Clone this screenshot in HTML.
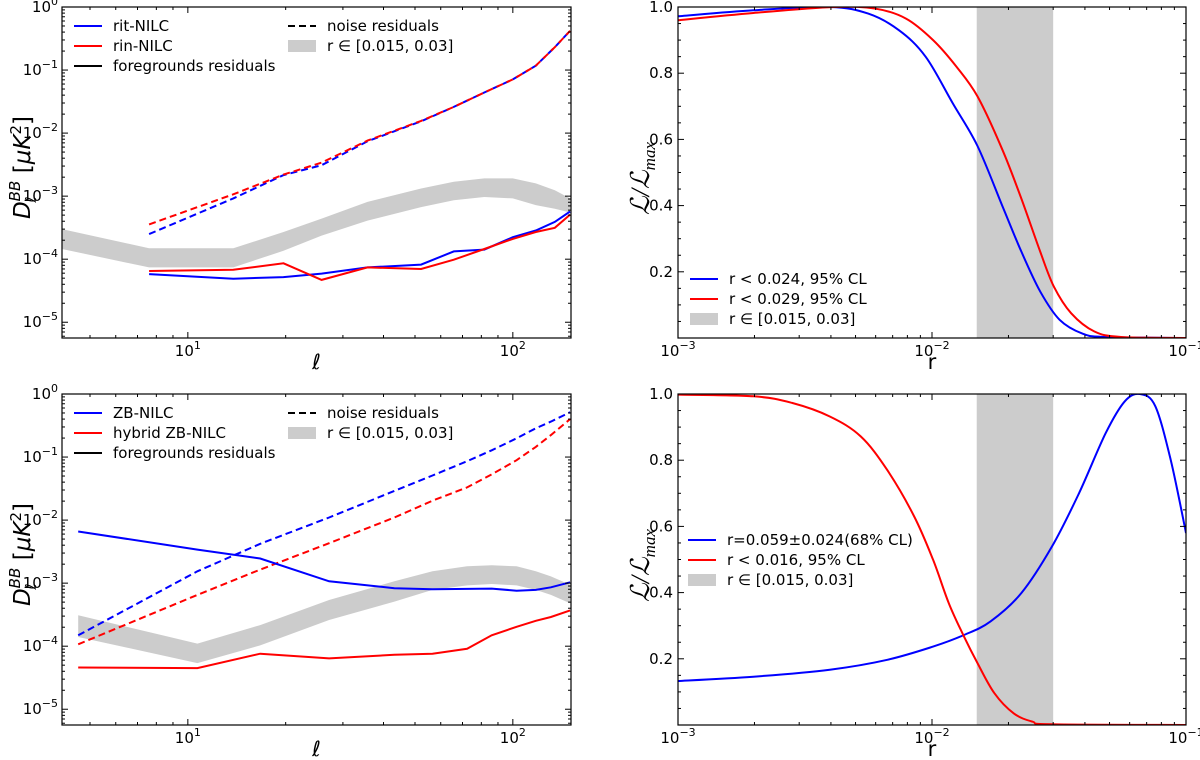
<!DOCTYPE html>
<html><head><meta charset="utf-8">
<style>
body{margin:0;background:#fff;}
svg{display:block;font-family:"DejaVu Sans","Liberation Sans",sans-serif;}
</style></head>
<body>
<svg id="fig" width="1200" height="760" viewBox="0 0 1200 760"></svg>
<script>
// ---- data: top-left (rit/rin-NILC) ----
const ellTL = [7.6,13.8,19.7,25.8,35.7,52.2,65.8,81.7,100,117.7,134.6,150];
const ritFg = [5.8e-5,4.9e-5,5.2e-5,5.9e-5,7.4e-5,8.2e-5,1.33e-4,1.42e-4,2.23e-4,2.85e-4,3.9e-4,5.7e-4];
const rinFg = [6.5e-5,6.8e-5,8.6e-5,4.7e-5,7.4e-5,7.0e-5,9.8e-5,1.45e-4,2.1e-4,2.7e-4,3.15e-4,5.1e-4];
const ritNoise = [2.5e-4,9.2e-4,2.16e-3,3.1e-3,7.4e-3,1.54e-2,2.6e-2,4.4e-2,7.1e-2,0.117,0.23,0.42];
const rinNoise = [3.56e-4,1.07e-3,2.2e-3,3.4e-3,7.6e-3,1.56e-2,2.6e-2,4.4e-2,7.1e-2,0.117,0.23,0.42];
const ellBandTL = [4.1,7.6,13.8,19.7,25.8,35.7,52.2,65.8,81.7,100,117.7,134.6,150];
const bandTLHi = [3.0e-4,1.49e-4,1.49e-4,2.7e-4,4.4e-4,8.1e-4,1.32e-3,1.69e-3,1.91e-3,1.91e-3,1.59e-3,1.24e-3,9.2e-4];
const bandTLLo = [1.45e-4,7.4e-5,7.4e-5,1.36e-4,2.37e-4,4.1e-4,6.7e-4,8.6e-4,9.7e-4,9.2e-4,7.2e-4,6.3e-4,5.5e-4];
// ---- data: bottom-left (ZB-NILC) ----
const ellBL = [4.6,10.7,16.7,27.2,43.2,56.6,72.3,86.1,102.7,117.7,131,150];
const zbFg = [6.6e-3,3.4e-3,2.46e-3,1.07e-3,8.3e-4,8.0e-4,8.1e-4,8.2e-4,7.6e-4,7.8e-4,8.6e-4,1.03e-3];
const hybFg = [4.6e-5,4.5e-5,7.6e-5,6.4e-5,7.3e-5,7.6e-5,9.1e-5,1.49e-4,2.03e-4,2.53e-4,2.9e-4,3.7e-4];
const zbNoise = [1.49e-4,1.54e-3,4.2e-3,1.1e-2,2.9e-2,5.1e-2,8.6e-2,0.128,0.198,0.286,0.365,0.515];
const hybNoise = [1.07e-4,6.5e-4,1.64e-3,4.3e-3,1.1e-2,2.03e-2,3.3e-2,5.3e-2,8.9e-2,0.145,0.223,0.4];
const bandBLHi = [3.1e-4,1.1e-4,2.16e-4,5.4e-4,1.07e-3,1.54e-3,1.85e-3,1.92e-3,1.85e-3,1.54e-3,1.28e-3,9.4e-4];
const bandBLLo = [1.4e-4,5.4e-5,1.03e-4,2.6e-4,5.1e-4,7.8e-4,9.2e-4,9.7e-4,9.2e-4,7.8e-4,6.5e-4,4.8e-4];
// ---- data: likelihoods ----
const rTB = [0.001,0.00198,0.00396,0.00561,0.00741,0.00944,0.01205,0.0151,0.0189,0.0225,0.0267,0.0318,0.0392,0.0483,0.1];
const LTB = [0.972,0.99,1.0,0.98,0.93,0.85,0.71,0.58,0.40,0.26,0.14,0.055,0.013,0.003,0];
const rTR = [0.001,0.00198,0.0041,0.0060,0.0079,0.0101,0.01247,0.0151,0.0189,0.0225,0.0267,0.0302,0.0353,0.0435,0.0555,0.1];
const LTR = [0.96,0.982,1.0,0.995,0.965,0.9,0.82,0.73,0.57,0.42,0.26,0.155,0.075,0.02,0.003,0];
const rBB = [0.001,0.00198,0.00396,0.00667,0.0101,0.01337,0.0170,0.0225,0.0297,0.0379,0.0483,0.0574,0.0659,0.0757,0.0871,0.1];
const LBB = [0.133,0.146,0.167,0.197,0.237,0.272,0.313,0.399,0.54,0.70,0.882,0.978,1.0,0.963,0.80,0.58];
const rBR = [0.001,0.00198,0.00281,0.00396,0.00524,0.00667,0.00851,0.0101,0.01164,0.01337,0.0151,0.0176,0.0210,0.0249,0.0296,0.1];
const LBR = [0.998,0.993,0.973,0.932,0.872,0.77,0.63,0.499,0.368,0.267,0.187,0.096,0.035,0.01,0.002,0];
const rBand = [0.015,0.03];
const logYTicks = [0,-1,-2,-3,-4,-5];
const linYTicks = [0.2,0.4,0.6,0.8,1.0];

const NS="http://www.w3.org/2000/svg";
const svg=document.getElementById('fig');
function mk(tag,attrs,parent){const e=document.createElementNS(NS,tag);for(const k in attrs)e.setAttribute(k,attrs[k]);(parent||svg).appendChild(e);return e;}

function panel(name,x0,x1,y0,y1,xlim,ylim,ylog){
  const g=mk('g',{});
  
  
  const lx=Math.log10(xlim[0]),hx=Math.log10(xlim[1]);
  const X=v=>x0+(Math.log10(v)-lx)/(hx-lx)*(x1-x0);
  let Y;
  if(ylog){const ly=Math.log10(ylim[0]),hy=Math.log10(ylim[1]);Y=v=>y1-(Math.log10(v)-ly)/(hy-ly)*(y1-y0);}
  else Y=v=>y1-(v-ylim[0])/(ylim[1]-ylim[0])*(y1-y0);
  return {g,X,Y,x0,x1,y0,y1,xlim,ylim,ylog};
}
function frame(p,xlabel,ylabelFn){
  const {g,X,Y,x0,x1,y0,y1}=p;
  const fr=mk('rect',{x:x0,y:y0,width:x1-x0,height:y1-y0,fill:'none',stroke:'#000','stroke-width':1.2},g);
  
  
  const e0=Math.floor(Math.log10(p.xlim[0])),e1=Math.ceil(Math.log10(p.xlim[1]));
  for(let e=e0;e<=e1;e++){for(let m=1;m<10;m++){const v=m*Math.pow(10,e);if(v<p.xlim[0]*0.999||v>p.xlim[1]*1.001)continue;const xx=X(v);const L=m==1?6:3;
    mk('line',{x1:xx,x2:xx,y1:y1,y2:y1-L,stroke:'#000','stroke-width':1},g);mk('line',{x1:xx,x2:xx,y1:y0,y2:y0+L,stroke:'#000','stroke-width':1},g);
    if(m==1){const t=mk('text',{x:xx,y:y1+18,'text-anchor':'middle','font-size':15},g);t.innerHTML='10<tspan dy="-7" font-size="11">'+(e<0?'−'+(-e):e)+'</tspan>';}}}
  if(p.ylog){
    for(const e of logYTicks.concat([-6])){for(let m=1;m<10;m++){const v=m*Math.pow(10,e);if(v<p.ylim[0]||v>p.ylim[1]*1.001)continue;const yy=Y(v);const L=m==1?6:3;
      mk('line',{x1:x0,x2:x0+L,y1:yy,y2:yy,stroke:'#000','stroke-width':1},g);mk('line',{x1:x1,x2:x1-L,y1:yy,y2:yy,stroke:'#000','stroke-width':1},g);
      if(m==1&&logYTicks.includes(e)){const t=mk('text',{x:x0-4,y:yy+5,'text-anchor':'end','font-size':15},g);t.innerHTML='10<tspan dy="-7" font-size="11">'+(e<0?'−'+(-e):e)+'</tspan>';}}}
  } else {
    for(let v=0.05;v<1.001;v+=0.05){const yy=Y(v);const maj=Math.abs(v*10-Math.round(v*10))<0.01&&Math.round(v*10)%2==0;const L=maj?6:3;
      mk('line',{x1:x0,x2:x0+L,y1:yy,y2:yy,stroke:'#000','stroke-width':1},g);mk('line',{x1:x1,x2:x1-L,y1:yy,y2:yy,stroke:'#000','stroke-width':1},g);}
    for(const v of linYTicks){const t=mk('text',{x:x0-5,y:Y(v)+5,'text-anchor':'end','font-size':15},g);t.textContent=v.toFixed(1);}
  }
  const xl=mk('text',{x:(x0+x1)/2,y:y1+31,'text-anchor':'middle','font-size':21,'font-style':p.ylog?'italic':'normal'},g);
  xl.textContent=xlabel;
  ylabelFn(g,(y0+y1)/2);
}
function line(p,xs,ys,color,dash,nm){
  const d=xs.map((v,i)=>(i?'L':'M')+p.X(v).toFixed(1)+','+p.Y(ys[i]).toFixed(1)).join('');
  const e=mk('path',{d,fill:'none',stroke:color,'stroke-width':2,'stroke-dasharray':dash?'7,4':'none','clip-path':'url(#'+p.clip+')'},p.g);
  
}
function smooth(p,xs,ys,color,nm){
  const P=xs.map((v,i)=>[p.X(v),p.Y(ys[i])]);
  let d='M'+P[0][0]+','+P[0][1];
  for(let i=0;i<P.length-1;i++){const a=P[Math.max(0,i-1)],b=P[i],c=P[i+1],e=P[Math.min(P.length-1,i+2)];
    d+='C'+(b[0]+(c[0]-a[0])/6).toFixed(1)+','+(b[1]+(c[1]-a[1])/6).toFixed(1)+' '+(c[0]-(e[0]-b[0])/6).toFixed(1)+','+(c[1]-(e[1]-b[1])/6).toFixed(1)+' '+c[0].toFixed(1)+','+c[1].toFixed(1);}
  const el=mk('path',{d,fill:'none',stroke:color,'stroke-width':2,'clip-path':'url(#'+p.clip+')'},p.g);
  
}
function band(p,xs,hi,lo,nm){
  let d=xs.map((v,i)=>(i?'L':'M')+p.X(v).toFixed(1)+','+p.Y(hi[i]).toFixed(1)).join('');
  for(let i=xs.length-1;i>=0;i--)d+='L'+p.X(xs[i]).toFixed(1)+','+p.Y(lo[i]).toFixed(1);
  const e=mk('path',{d:d+'Z',fill:'#cccccc','clip-path':'url(#'+p.clip+')'},p.g);
  
}
const defs=mk('defs',{});
let cid=0;
function clip(p){p.clip='c'+(cid++);const c=mk('clipPath',{id:p.clip},defs);mk('rect',{x:p.x0,y:p.y0,width:p.x1-p.x0,height:p.y1-p.y0},c);}
function legend(g,x,y,items){
  items.forEach((it,i)=>{const yy=y+i*20;
    const gg=mk('g',{},g);
    if(it.band)mk('rect',{x:x,y:yy-6,width:28,height:12,fill:'#cccccc'},gg);
    else mk('line',{x1:x,x2:x+28,y1:yy,y2:yy,stroke:it.c,'stroke-width':2,'stroke-dasharray':it.dash?'7,4':'none'},gg);
    const t=mk('text',{x:x+39,y:yy+5,'font-size':15},gg);t.textContent=it.t;});
}
function dLabel(g,cy){const t=mk('text',{transform:'translate(30,'+(cy-5)+') rotate(-90)','text-anchor':'middle','font-size':23},g);
  t.innerHTML='<tspan font-style="italic">D</tspan><tspan font-size="15" font-style="italic" dy="-10">BB</tspan><tspan font-size="15" font-style="italic" dx="-22" dy="16">ℓ</tspan><tspan dy="-6" dx="16"> [</tspan><tspan font-style="italic">μK</tspan><tspan font-size="15" dy="-9">2</tspan><tspan dy="9">]</tspan>';
  }
function lLabel(g,cy){const t=mk('text',{transform:'translate(649,'+(cy+6)+') rotate(-90)','text-anchor':'middle','font-size':26,'font-style':'italic','font-family':'Liberation Serif,serif'},g);
  t.innerHTML='ℒ/ℒ<tspan font-size="17" dy="6">max</tspan>';}

const ylimD=[Math.pow(10,-5.25),1];
let p=panel('panel-top-left',62,571,7,338,[4.1,151],ylimD,true);clip(p);
band(p,ellBandTL,bandTLHi,bandTLLo,'r-band');
line(p,ellTL,ritNoise,'#0000ff',true,'rit-noise-line');line(p,ellTL,rinNoise,'#ff0000',true,'rin-noise-line');
line(p,ellTL,ritFg,'#0000ff',false,'rit-fg-line');line(p,ellTL,rinFg,'#ff0000',false,'rin-fg-line');
frame(p,'ℓ',dLabel);
legend(p.g,74,26,[{c:'#0000ff',t:'rit-NILC'},{c:'#ff0000',t:'rin-NILC'},{c:'#000',t:'foregrounds residuals'}]);
legend(p.g,288,26,[{c:'#000',dash:1,t:'noise residuals'},{band:1,t:'r ∈ [0.015, 0.03]'}]);
p=panel('panel-bottom-left',62,571,394,725,[4.1,151],ylimD,true);clip(p);
band(p,ellBL,bandBLHi,bandBLLo,'r-band');
line(p,ellBL,zbNoise,'#0000ff',true,'zb-noise-line');line(p,ellBL,hybNoise,'#ff0000',true,'hybrid-noise-line');
line(p,ellBL,zbFg,'#0000ff',false,'zb-fg-line');line(p,ellBL,hybFg,'#ff0000',false,'hybrid-fg-line');
frame(p,'ℓ',dLabel);
legend(p.g,74,413,[{c:'#0000ff',t:'ZB-NILC'},{c:'#ff0000',t:'hybrid ZB-NILC'},{c:'#000',t:'foregrounds residuals'}]);
legend(p.g,288,413,[{c:'#000',dash:1,t:'noise residuals'},{band:1,t:'r ∈ [0.015, 0.03]'}]);
function shade(p){const e=mk('rect',{x:p.X(rBand[0]),y:p.y0,width:p.X(rBand[1])-p.X(rBand[0]),height:p.y1-p.y0,fill:'#cccccc'},p.g);}
p=panel('panel-top-right',678,1186,7,338,[0.001,0.1],[0,1],false);clip(p);shade(p);
smooth(p,rTB,LTB,'#0000ff','rit-likelihood');smooth(p,rTR,LTR,'#ff0000','rin-likelihood');
frame(p,'r',lLabel);
legend(p.g,690,279,[{c:'#0000ff',t:'r < 0.024, 95% CL'},{c:'#ff0000',t:'r < 0.029, 95% CL'},{band:1,t:'r ∈ [0.015, 0.03]'}]);
p=panel('panel-bottom-right',678,1186,394,725,[0.001,0.1],[0,1],false);clip(p);shade(p);
smooth(p,rBB,LBB,'#0000ff','zb-likelihood');smooth(p,rBR,LBR,'#ff0000','hybrid-likelihood');
frame(p,'r',lLabel);
legend(p.g,688,540,[{c:'#0000ff',t:'r=0.059±0.024(68% CL)'},{c:'#ff0000',t:'r < 0.016, 95% CL'},{band:1,t:'r ∈ [0.015, 0.03]'}]);
</script>
</body></html>
